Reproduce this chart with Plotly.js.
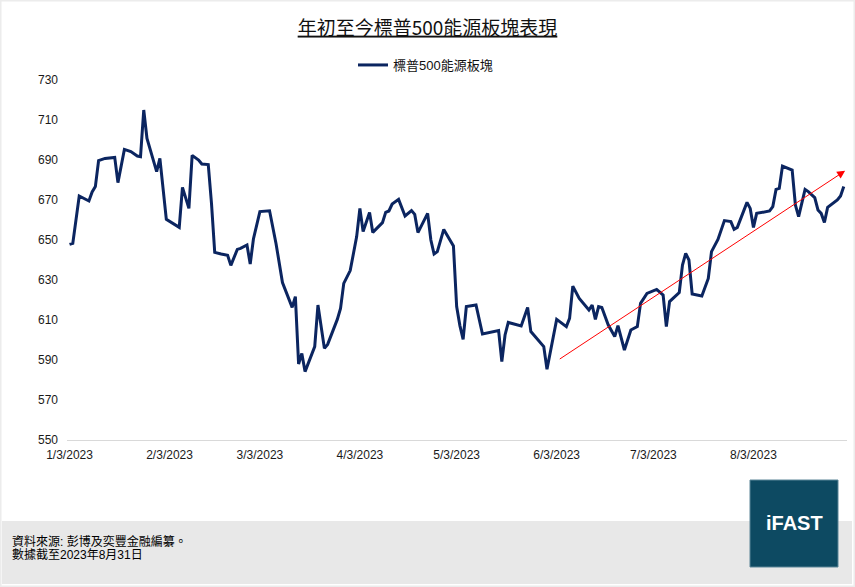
<!DOCTYPE html>
<html>
<head>
<meta charset="utf-8">
<script src="https://cdn.plot.ly/plotly-3.0.1.min.js"></script>
<style>
html,body{margin:0;padding:0;background:#fff;}
#chart{width:855px;height:587px;}
</style>
</head>
<body>
<div id="chart"></div>
<script>
// ---- data ----
const seriesName = '標普500能源板塊';
const dates = [
'2023-01-03','2023-01-04','2023-01-06','2023-01-09','2023-01-10','2023-01-11','2023-01-12','2023-01-14','2023-01-17','2023-01-18','2023-01-20','2023-01-22','2023-01-24','2023-01-25','2023-01-26','2023-01-27','2023-01-30','2023-01-31',
'2023-02-02','2023-02-04','2023-02-06','2023-02-07','2023-02-09','2023-02-10','2023-02-12','2023-02-13','2023-02-15','2023-02-16','2023-02-17','2023-02-19','2023-02-21','2023-02-22','2023-02-24','2023-02-25','2023-02-27','2023-02-28',
'2023-03-01','2023-03-03','2023-03-06','2023-03-08','2023-03-10','2023-03-13','2023-03-14','2023-03-15','2023-03-16','2023-03-17','2023-03-20','2023-03-21','2023-03-23','2023-03-24','2023-03-27','2023-03-28','2023-03-29','2023-03-31',
'2023-04-02','2023-04-03','2023-04-04','2023-04-06','2023-04-07','2023-04-10','2023-04-11','2023-04-12','2023-04-13','2023-04-15','2023-04-17','2023-04-19','2023-04-20','2023-04-21','2023-04-24','2023-04-25','2023-04-26','2023-04-27','2023-04-29',
'2023-05-02','2023-05-03','2023-05-04','2023-05-05','2023-05-06','2023-05-09','2023-05-11','2023-05-16','2023-05-17','2023-05-18','2023-05-19','2023-05-23','2023-05-25','2023-05-26','2023-05-30','2023-05-31',
'2023-06-03','2023-06-06','2023-06-07','2023-06-08','2023-06-10','2023-06-13','2023-06-14','2023-06-15','2023-06-16','2023-06-17','2023-06-19','2023-06-21','2023-06-22','2023-06-24','2023-06-26','2023-06-28','2023-06-29',
'2023-07-01','2023-07-04','2023-07-06','2023-07-07','2023-07-08','2023-07-11','2023-07-12','2023-07-13','2023-07-14','2023-07-15','2023-07-18','2023-07-20','2023-07-21','2023-07-23','2023-07-25','2023-07-27','2023-07-28','2023-07-29',
'2023-08-01','2023-08-02','2023-08-03','2023-08-04','2023-08-08','2023-08-09','2023-08-10','2023-08-11','2023-08-12','2023-08-15','2023-08-16','2023-08-17','2023-08-19','2023-08-20','2023-08-22','2023-08-23','2023-08-24','2023-08-25','2023-08-26','2023-08-29','2023-08-30','2023-08-31'
];
const values = [
647.8,648.3,672,669.5,674,676.7,689.7,690.8,691.3,678.7,695.3,694.2,692,691.7,715,700.8,684.2,690.8,
660.3,658.3,656.3,676.3,665.8,692.3,690,688,687.7,668.3,643.8,643,642.3,637.3,645.3,645.8,647.5,638,
650.5,664.2,664.6,648.3,628.7,616.3,621.7,588,593.3,584.2,596.7,617.5,595.8,597.8,610.3,615.8,628.3,634.7,
651.7,665.8,654.2,663.7,653.8,658.7,663.8,664.5,668,670.3,662,664.7,662.8,653.7,663.3,650,643,644.2,655.3,
647,616.7,607.2,600.3,616.7,617.5,603,604.7,589.2,602.5,608.8,607,616.3,604.2,596.7,585.4,
610.3,606.7,610.8,626.9,620.8,615,617.5,610.3,616.7,616.3,607.5,601.7,607.2,595,605,606.7,618.3,
623.3,625.3,622.5,606.7,619.2,623.7,637.5,643.3,640,623,622,630.8,644.2,650.3,659.7,659.2,655.3,656.3,
668.8,665.8,656.3,663.3,664.5,666.7,675.3,675.8,687,685,667.5,661.7,675.3,674.2,671.2,665,663.3,658.8,666.3,670,672,676.7
];
const tickDates = ['2023-01-03','2023-02-03','2023-03-03','2023-04-03','2023-05-03','2023-06-03','2023-07-03','2023-08-03'];
const tickLabels = ['1/3/2023','2/3/2023','3/3/2023','4/3/2023','5/3/2023','6/3/2023','7/3/2023','8/3/2023'];
const trendDates = ['2023-06-03 12:00','2023-08-31 10:00'];
const trendValues = [590, 684.6];
const titleText = '年初至今標普500能源板塊表現';
const sourceLines = ['資料來源: 彭博及奕豐金融編纂。', '數據截至2023年8月31日'];
const logoText = 'iFAST';

// ---- chart ----
const latin = 'Liberation Sans, Arial, Noto Sans CJK TC, sans-serif';
const trace = {
  type: 'scatter', mode: 'lines', name: seriesName,
  x: dates, y: values,
  line: {color: '#0b2560', width: 3},
  hoverinfo: 'skip'
};

const layout = {
  width: 855, height: 587,
  margin: {l: 67, r: 8, t: 80, b: 147},
  paper_bgcolor: '#ffffff', plot_bgcolor: '#ffffff',
  showlegend: true,
  title: {
    text: '<u>' + titleText + '</u>',
    x: 0.5, xref: 'container', xanchor: 'center',
    y: 1 - 28/587, yref: 'container', yanchor: 'middle',
    font: {family: 'Noto Sans CJK TC, sans-serif', size: 19, color: '#111111'}
  },
  legend: {
    orientation: 'h', x: (353-67)/780, xanchor: 'left',
    y: (440-65)/360, yanchor: 'middle',
    font: {family: latin, size: 13, color: '#111111'},
    bgcolor: 'rgba(0,0,0,0)'
  },
  xaxis: {
    type: 'date',
    range: ['2023-01-02 05:00', '2023-09-01 00:00'],
    tickmode: 'array', tickvals: tickDates, ticktext: tickLabels,
    showgrid: false, zeroline: false,
    showline: true, linecolor: '#d9d9d9', linewidth: 1,
    ticks: '', ticklabelstandoff: 4,
    tickfont: {family: latin, size: 12, color: '#1a1a1a'},
    fixedrange: true
  },
  yaxis: {
    range: [550, 730], tick0: 550, dtick: 20,
    showgrid: false, zeroline: false, showline: false,
    ticks: '', ticklabelstandoff: 8,
    tickfont: {family: latin, size: 12, color: '#1a1a1a'},
    fixedrange: true
  },
  shapes: [
    {type: 'rect', xref: 'paper', yref: 'paper', layer: 'below',
     x0: (2-67)/780, x1: (852-67)/780, y0: (440-584)/360, y1: (440-521)/360,
     fillcolor: '#e8e8e8', line: {width: 0}},
    {type: 'rect', xref: 'paper', yref: 'paper',
     x0: (750-67)/780, x1: (838-67)/780, y0: (440-567)/360, y1: (440-480)/360,
     fillcolor: '#0d4a62', line: {color: '#5a8597', width: 1}},
    {type: 'rect', xref: 'paper', yref: 'paper', layer: 'below',
     x0: (0.5-67)/780, x1: (854.5-67)/780, y0: (440-586.5)/360, y1: (440-0.5)/360,
     fillcolor: 'rgba(0,0,0,0)', line: {color: '#ececec', width: 2}}
  ],
  annotations: [
    {xref: 'x', yref: 'y', axref: 'x', ayref: 'y',
     x: trendDates[1], y: trendValues[1], ax: trendDates[0], ay: trendValues[0],
     text: '', showarrow: true, arrowhead: 2, arrowsize: 1.6, arrowwidth: 1,
     arrowcolor: '#ff0000', standoff: 0, startstandoff: 0},
    {xref: 'paper', yref: 'paper', x: (10-67)/780, y: (440-541.5)/360,
     xanchor: 'left', yanchor: 'middle', showarrow: false, text: sourceLines[0],
     font: {family: latin, size: 12, color: '#000000'}},
    {xref: 'paper', yref: 'paper', x: (10-67)/780, y: (440-554.5)/360,
     xanchor: 'left', yanchor: 'middle', showarrow: false, text: sourceLines[1],
     font: {family: latin, size: 12, color: '#000000'}},
    {xref: 'paper', yref: 'paper', x: (794-67)/780, y: (440-523)/360,
     xanchor: 'center', yanchor: 'middle', showarrow: false, text: '<b>' + logoText + '</b>',
     font: {family: 'Liberation Sans, Arial, sans-serif', size: 20, color: '#ffffff'}}
  ]
};

Plotly.newPlot('chart', [trace], layout, {displayModeBar: false, staticPlot: true});
</script>
</body>
</html>
